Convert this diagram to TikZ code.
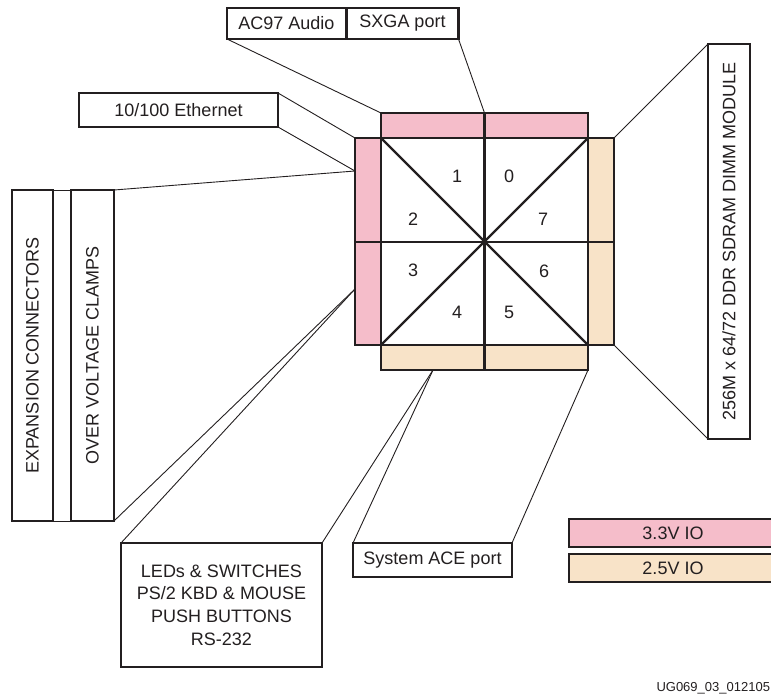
\documentclass[tikz,border=0pt]{standalone}
\usepackage{fontspec}
\setmainfont{Liberation Sans}
\usepackage{graphicx}
\definecolor{iopink}{RGB}{245,189,202}
\definecolor{iotan}{RGB}{248,227,200}
\definecolor{inkgray}{RGB}{35,31,32}

\begin{document}
\begin{tikzpicture}[x=1pt, y=-1pt,
                    every node/.style={inner sep=0pt, outer sep=0pt, text=inkgray,
                                      font=\fontsize{18}{22.7}\selectfont},
                    box/.style={rectangle, draw=inkgray, line width=2.4pt, fill=white, align=center},
                    pinkbar/.style={box, fill=iopink},
                    tanbar/.style={box, fill=iotan},
                    wire/.style={draw=inkgray, line width=0.9pt}]

\useasboundingbox (0,0) rectangle (771,696);
\clip (0,0) rectangle (771,696);

% IO banks round the core
\node[pinkbar, minimum width=103.5, minimum height=25] (topL) at (432.75,125.5) {};
\node[pinkbar, minimum width=103.5, minimum height=25] (topR) at (536.25,125.5) {};
\node[tanbar, minimum width=103.5, minimum height=25] (botL) at (432.75,357.5) {};
\node[tanbar, minimum width=103.5, minimum height=25] (botR) at (536.25,357.5) {};
\node[pinkbar, minimum width=26, minimum height=104] (leftT) at (368,190) {};
\node[pinkbar, minimum width=26, minimum height=103] (leftB) at (368,293.5) {};
\node[tanbar, minimum width=26, minimum height=104] (rightT) at (601,190) {};
\node[tanbar, minimum width=26, minimum height=103] (rightB) at (601,293.5) {};

% Core square with the eight banks
\node[box, minimum width=207, minimum height=207] (core) at (484.5,241.5) {};
\draw[draw=inkgray, line width=2.4pt] (core.north west) -- (core.south east);
\draw[draw=inkgray, line width=2.4pt] (core.north east) -- (core.south west);
\draw[draw=inkgray, line width=2.4pt] (core.north) -- (core.south);
\draw[draw=inkgray, line width=2.4pt] (leftT.south west) -- (rightT.south east);

\node (n1) at (457,176) {1};
\node (n0) at (509,176) {0};
\node (n2) at (413,219) {2};
\node (n7) at (543,219) {7};
\node (n3) at (413,270) {3};
\node (n6) at (544,271) {6};
\node (n4) at (457,312) {4};
\node (n5) at (509,312) {5};

% Peripheral boxes
\node[box, minimum width=119, minimum height=31] (ac97) at (286.5,23.5) {AC97 Audio};
\node[box, minimum width=112, minimum height=31] (sxga) at (402.5,23.5) {SXGA port};
\node[box, minimum width=199, minimum height=34] (eth) at (178.5,110) {10/100 Ethernet};
\node[box, minimum width=41, minimum height=331] (exp) at (32.5,355.5) {\rotatebox{90}{EXPANSION CONNECTORS}};
\node[box, minimum width=43, minimum height=331] (ovc) at (92.5,355.5) {\rotatebox{90}{OVER VOLTAGE CLAMPS}};
\node[box, minimum width=42, minimum height=395] (dimm) at (729,241.5) {\rotatebox{90}{256M x 64/72 DDR SDRAM DIMM MODULE}};
\node[box, minimum width=201, minimum height=124] (leds) at (221.5,605) {LEDs \& SWITCHES\\PS/2 KBD \& MOUSE\\PUSH BUTTONS\\RS-232};
\node[box, minimum width=159, minimum height=34] (ace) at (432.5,560) {System ACE port};

% Legend
\node[pinkbar, minimum width=208, minimum height=28] (lg33) at (673,533) {3.3V IO};
\node[tanbar, minimum width=208, minimum height=28] (lg25) at (673,568) {2.5V IO};

\node[anchor=east, font=\fontsize{13}{15}\selectfont] (figid) at (770,688) {UG069\_03\_012105};

% Connections
\coordinate (lp1) at (355,171);
\coordinate (lp2) at (355,289);
\coordinate (bp1) at (433,370);

\draw[wire] (exp.north east) -- (ovc.north west);
\draw[wire] (exp.south east) -- (ovc.south west);

\draw[wire] (ac97.south west) -- (topL.north west);
\draw[wire] (sxga.south east) -- (topL.north east);
\draw[wire] (eth.north east) -- (leftT.north west);
\draw[wire] (eth.south east) -- (lp1);
\draw[wire] (ovc.north east) -- (lp1);
\draw[wire] (ovc.south east) -- (lp2);
\draw[wire] (leds.north west) -- (lp2);
\draw[wire] (leds.north east) -- (bp1);
\draw[wire] (ace.north west) -- (bp1);
\draw[wire] (ace.north east) -- (botR.south east);
\draw[wire] (dimm.north west) -- (rightT.north east);
\draw[wire] (dimm.south west) -- (rightB.south east);

\end{tikzpicture}
\end{document}
